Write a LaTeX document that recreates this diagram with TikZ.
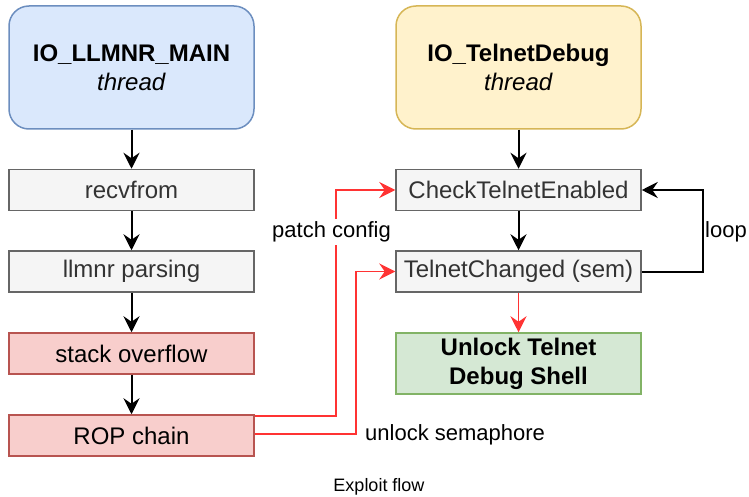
\documentclass[tikz,border=0pt]{standalone}
\usepackage{fontspec}
\setmainfont{Liberation Sans}
\usetikzlibrary{arrows.meta}
\definecolor{bluef}{HTML}{DAE8FC}\definecolor{blued}{HTML}{6C8EBF}
\definecolor{yelf}{HTML}{FFF2CC}\definecolor{yeld}{HTML}{D6B656}
\definecolor{greyf}{HTML}{F5F5F5}\definecolor{greyd}{HTML}{666666}
\definecolor{redf}{HTML}{F8CECC}\definecolor{redd}{HTML}{B85450}
\definecolor{greenf}{HTML}{D5E8D4}\definecolor{greend}{HTML}{82B366}
\definecolor{lnred}{HTML}{FF3333}\definecolor{txtgrey}{HTML}{333333}
\tikzset{
  box/.style={rectangle, line width=1.5pt, minimum width=245pt, minimum height=41pt, inner sep=0pt, align=center, font=\fontsize{24}{28.8}\selectfont},
  thread/.style={box, rounded corners=20pt, minimum height=123pt},
  greybox/.style={box, fill=greyf, draw=greyd, text=txtgrey},
  redbox/.style={box, fill=redf, draw=redd},
  greenbox/.style={box, fill=greenf, draw=greend, minimum height=61pt},
  tip/.style={-{Stealth[length=16pt,width=16pt,inset=5.5pt]}},
  blk/.style={tip, line width=2pt, black},
  rline/.style={tip, line width=1.8pt, lnred},
  lbl/.style={inner sep=0pt, font=\fontsize{22}{26}\selectfont},
}
\begin{document}
\begin{tikzpicture}[x=1pt,y=-1pt]
\useasboundingbox (0,0) rectangle (749,497);
\node[thread, fill=bluef, draw=blued] (llmnr) at (131.5,67.5) {\textbf{IO\_LLMNR\_MAIN}\\\textit{thread}};
\node[thread, fill=yelf, draw=yeld] (telnet) at (518.5,67.5) {\textbf{IO\_TelnetDebug}\\\textit{thread}};
\node[greybox] (recv) at (131.5,190) {recvfrom};
\node[greybox] (parse) at (131.5,271.5) {llmnr parsing};
\node[redbox] (so) at (131.5,353.5) {stack overflow};
\node[redbox] (rop) at (131.5,435.5) {ROP chain};
\node[greybox] (check) at (518.5,190) {CheckTelnetEnabled};
\node[greybox] (changed) at (518.5,271.5) {TelnetChanged (sem)};
\node[greenbox] (unlock) at (518.5,363.5) {\textbf{Unlock Telnet}\\\textbf{Debug Shell}};

\draw[blk] (llmnr) -- (recv);
\draw[blk] (recv) -- (parse);
\draw[blk] (parse) -- (so);
\draw[blk] (so) -- (rop);
\draw[blk] (telnet) -- (check);
\draw[blk] (check) -- (changed);
\draw[rline] (changed) -- (unlock);
\draw[blk] (changed.east) -- ++(61,0) |- (check.east);
\draw[rline] ([yshift=-2pt]rop.north east) -- ++(81,0) |- (check.west);
\draw[rline] ([yshift=1.5pt]rop.east) -- ++(101,0) |- (changed.west);

\node[lbl, fill=white, inner ysep=3pt] (pc) at (331.5,232) {patch config};
\node[lbl, anchor=west] (us) at (365,435) {unlock semaphore};
\node[lbl, anchor=west] (lp) at (705,232) {loop};
\node[inner sep=0pt, font=\fontsize{18}{21}\selectfont] (cap) at (379,487) {Exploit flow};
\end{tikzpicture}
\end{document}
